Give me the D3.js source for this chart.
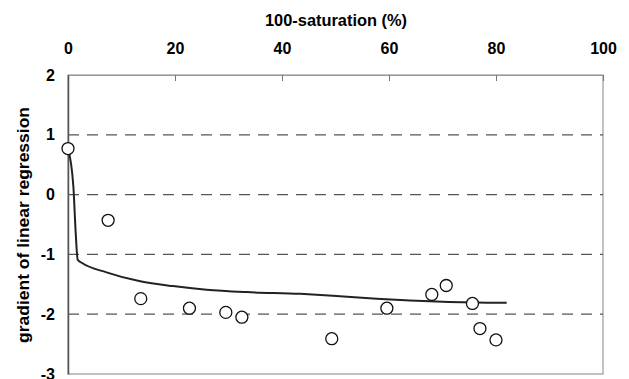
<!DOCTYPE html>
<html>
<head>
    <meta charset="UTF-8">
    <title></title>
    <script src="https://cdn.jsdelivr.net/npm/d3@7/dist/d3.min.js"></script>
    <style>
        body{
            padding: 0;
            margin: 0;
            background: #fff;
        }
        svg text{
            font-family: "Liberation Sans", Arial, sans-serif;
            font-weight: bold;
            fill: #000;
        }
    </style>
</head>
<body>
<div class="first"></div>

<script>

    // measured points
    var pointX = [0, 7.5, 13.6, 22.7, 29.5, 32.5, 49.3, 59.6, 68.0, 70.7, 75.6, 77.0, 80.0];
    var pointY = [0.77, -0.43, -1.74, -1.90, -1.97, -2.05, -2.41, -1.90, -1.67, -1.52, -1.82, -2.24, -2.43];

    // fitted curve
    var lineX = [0, 1.0, 1.44, 1.81, 2.56, 7.2, 13.5, 19.6, 25.9, 33.4, 43.4, 49.5, 57.7, 63.9, 70.1, 82.0];
    var lineY = [0.77, 0.14, -0.64, -1.09, -1.14, -1.30, -1.45, -1.53, -1.59, -1.63, -1.66, -1.69, -1.74, -1.77, -1.79, -1.81];

    var xTicks = [0, 20, 40, 60, 80, 100];
    var yTicks = [2, 1, 0, -1, -2, -3];
    var gridY = [1, 0, -1, -2];

    var width = 629, height = 379;
    var padL = 68, padR = 603, padT = 75, padB = 374;

    var svg = d3.select(".first")
        .append("svg")
        .attr("width", width)
        .attr("height", height);

    var x = d3.scaleLinear()
        .domain([0, 100])
        .range([padL, padR]);

    var y = d3.scaleLinear()
        .domain([-3, 2])
        .range([padB, padT]);

    // frame
    svg.append("rect")
        .attr("x", padL)
        .attr("y", padT)
        .attr("width", padR - padL)
        .attr("height", padB - padT)
        .attr("fill", "none")
        .attr("stroke", "#999")
        .attr("stroke-width", 1.2);

    // dashed grid
    svg.selectAll(".grid")
        .data(gridY)
        .enter()
        .append("line")
        .attr("class", "grid")
        .attr("x1", padL)
        .attr("x2", padR)
        .attr("y1", function(d){ return y(d); })
        .attr("y2", function(d){ return y(d); })
        .attr("stroke", "#555")
        .attr("stroke-width", 1.2)
        .attr("stroke-dasharray", "11,8");

    // top axis
    var axisTop = d3.axisTop(x)
        .tickValues(xTicks)
        .tickSize(-6)
        .tickPadding(21);

    var gTop = svg.append("g")
        .attr("transform", "translate(0," + padT + ")")
        .call(axisTop);
    gTop.select(".domain").attr("stroke", "#999").attr("stroke-width", 1.2);
    gTop.selectAll(".tick line").attr("stroke", "#777");
    gTop.selectAll(".tick text")
        .style("font-size", "16px");

    // left axis, hyphen minus like the original
    var axisLeft = d3.axisLeft(y)
        .tickValues(yTicks)
        .tickSize(0)
        .tickPadding(13)
        .tickFormat(function(d){ return String(d); });

    var gLeft = svg.append("g")
        .attr("transform", "translate(" + padL + ",0)")
        .call(axisLeft);
    gLeft.select(".domain").attr("stroke", "#555").attr("stroke-width", 1.5);
    gLeft.selectAll(".tick text")
        .style("font-size", "16px");

    // titles
    svg.append("text")
        .attr("x", 336)
        .attr("y", 26)
        .attr("text-anchor", "middle")
        .attr("textLength", 142)
        .attr("lengthAdjust", "spacingAndGlyphs")
        .style("font-size", "17px")
        .text("100-saturation (%)");

    svg.append("text")
        .attr("transform", "translate(29,225) rotate(-90)")
        .attr("text-anchor", "middle")
        .attr("textLength", 236)
        .attr("lengthAdjust", "spacingAndGlyphs")
        .style("font-size", "17px")
        .text("gradient of linear regression");

    // curve
    var lineData = lineX.map(function(d, i){ return [d, lineY[i]]; });
    var line = d3.line()
        .x(function(d){ return x(d[0]); })
        .y(function(d){ return y(d[1]); })
        .curve(d3.curveMonotoneX);

    svg.append("path")
        .datum(lineData)
        .attr("d", line)
        .attr("fill", "none")
        .attr("stroke", "#222")
        .attr("stroke-width", 2);

    // points
    svg.selectAll(".pt")
        .data(pointX)
        .enter()
        .append("circle")
        .attr("class", "pt")
        .attr("cx", function(d){ return x(d); })
        .attr("cy", function(d, i){ return y(pointY[i]); })
        .attr("r", 6)
        .attr("fill", "#fff")
        .attr("stroke", "#111")
        .attr("stroke-width", 1.3);

</script>
</body>
</html>
